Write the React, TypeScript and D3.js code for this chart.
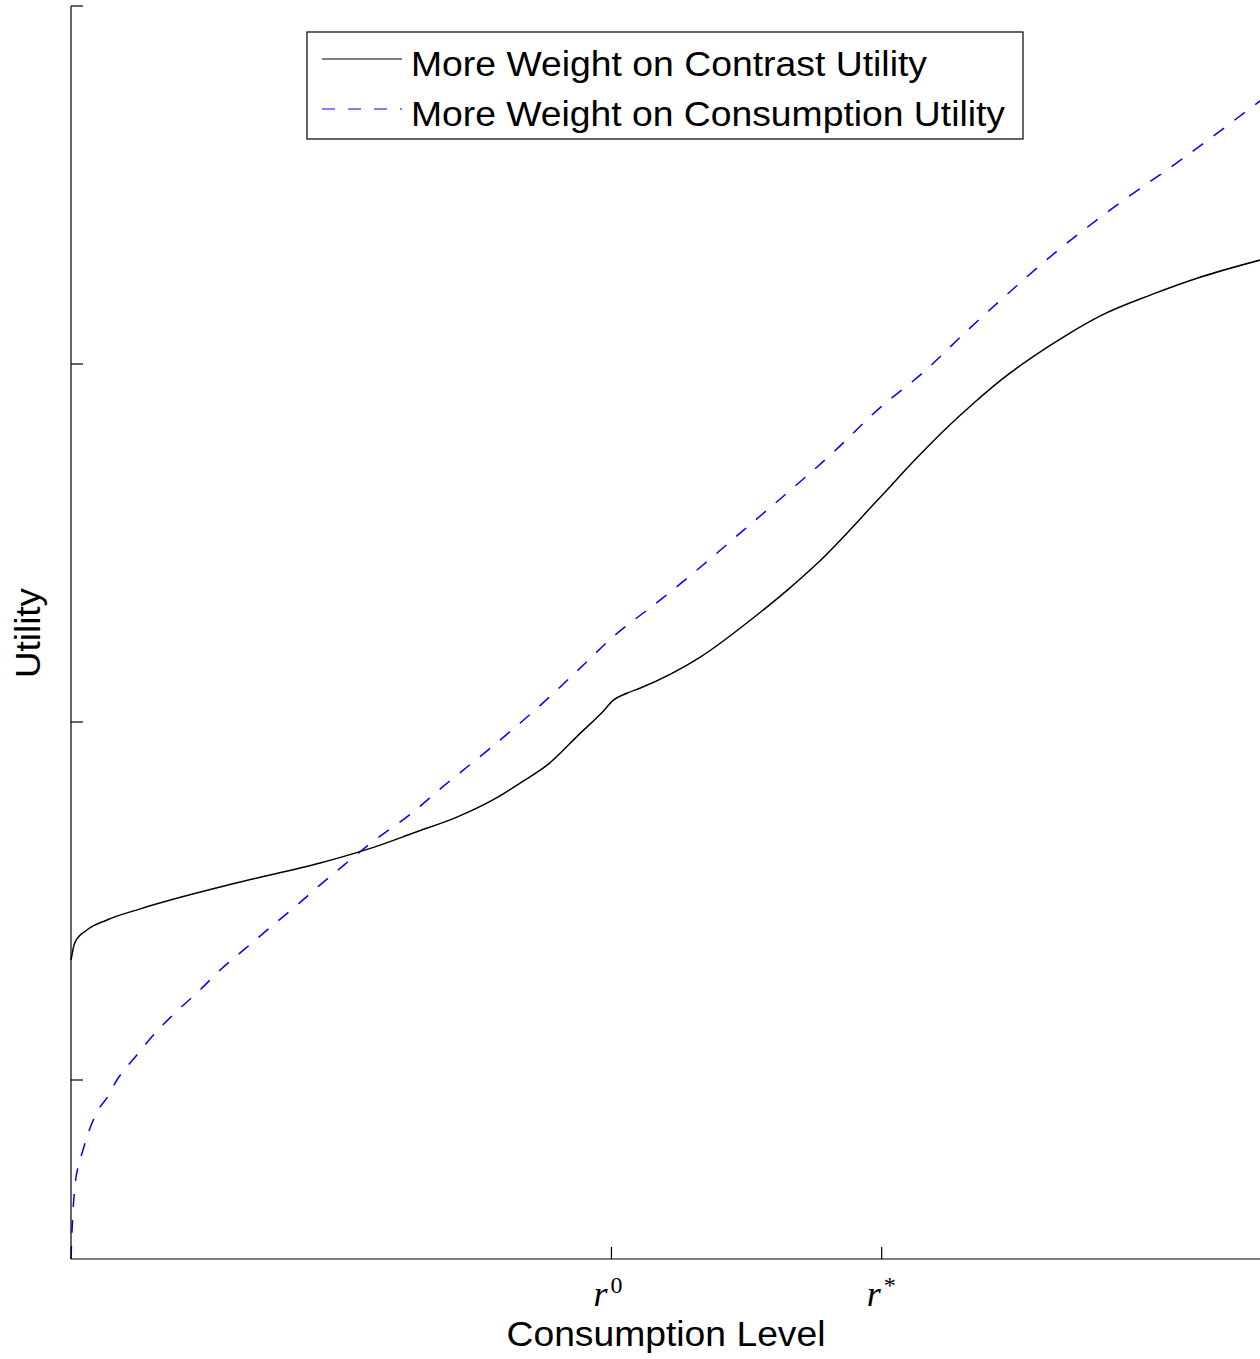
import React, { useEffect, useRef } from "react";
import * as d3 from "d3";

// consumption level (r0 = 2, r* = 3)
const contrastX = [0, 0.015, 0.059, 0.133, 0.256, 0.626, 0.922, 1.144, 1.267, 1.430, 1.581, 1.663, 1.763, 1.885, 1.967, 2.007, 2.059, 2.107, 2.330, 2.515, 2.652, 2.763, 2.985, 3.133, 3.244, 3.341, 3.441, 3.563, 3.689, 3.811, 3.996, 4.181, 4.404];
const contrastY = [0.835, 0.885, 0.919, 0.947, 0.978, 1.053, 1.106, 1.156, 1.190, 1.235, 1.291, 1.330, 1.380, 1.469, 1.528, 1.561, 1.581, 1.595, 1.682, 1.785, 1.869, 1.944, 2.120, 2.240, 2.324, 2.391, 2.455, 2.522, 2.583, 2.635, 2.693, 2.743, 2.791];

const consumptionX = [0, 0.004, 0.007, 0.015, 0.026, 0.041, 0.059, 0.100, 0.133, 0.170, 0.244, 0.315, 0.393, 0.474, 0.556, 0.626, 0.748, 0.837, 0.922, 1.011, 1.100, 1.267, 1.374, 1.552, 1.730, 1.896, 2.000, 2.181, 2.330, 2.489, 2.663, 2.822, 2.985, 3.156, 3.319, 3.441, 3.663, 3.856, 4.107, 4.404];
const consumptionY = [0, 0.081, 0.128, 0.207, 0.257, 0.296, 0.341, 0.416, 0.450, 0.500, 0.570, 0.634, 0.693, 0.749, 0.810, 0.855, 0.933, 0.989, 1.045, 1.101, 1.156, 1.249, 1.318, 1.427, 1.542, 1.659, 1.734, 1.841, 1.933, 2.036, 2.148, 2.254, 2.372, 2.478, 2.595, 2.679, 2.824, 2.936, 3.070, 3.237];

const yTicks = [0.5, 1.5, 2.5, 3.5];
const xTicks = [2, 3];
const xTickNames = ["0", "*"];
const legendNames = ["More Weight on Contrast Utility", "More Weight on Consumption Utility"];
const legendWidths = [516, 594];

const W = 1260, H = 1359;
const sans = "'Liberation Sans', Arial, Helvetica, sans-serif";

function App() {
  const ref = useRef<SVGSVGElement>(null);

  useEffect(() => {
    const svg = d3.select(ref.current);
    svg.selectAll("*").remove();

    const x = d3.scaleLinear().domain([0, 4.4]).range([71, 1260]);
    const y = d3.scaleLinear().domain([0, 3.5]).range([1259, 6]);

    const line = d3.line<[number, number]>()
      .x(d => x(d[0]))
      .y(d => y(d[1]))
      .curve(d3.curveMonotoneX);

    const black = contrastX.map((v, i) => [v, contrastY[i]] as [number, number]);
    const blue = consumptionX.map((v, i) => [v, consumptionY[i]] as [number, number]);

    svg.append("path").attr("d", line(blue)).attr("fill", "none")
      .attr("stroke", "#0000ff").attr("stroke-width", 1.5).attr("stroke-dasharray", "13,13");
    svg.append("path").attr("d", line(black)).attr("fill", "none")
      .attr("stroke", "#000").attr("stroke-width", 1.5);

    // axes
    const g = svg.append("g").attr("stroke", "#000").attr("stroke-width", 1.2);
    g.append("line").attr("x1", x(0)).attr("x2", x(0)).attr("y1", y(3.5)).attr("y2", y(0));
    g.append("line").attr("x1", x(0)).attr("x2", x(4.4)).attr("y1", y(0)).attr("y2", y(0));
    yTicks.forEach(t => {
      g.append("line").attr("x1", x(0)).attr("x2", x(0) + 12).attr("y1", y(t)).attr("y2", y(t));
    });
    xTicks.forEach((t, i) => {
      g.append("line").attr("x1", x(t)).attr("x2", x(t)).attr("y1", y(0)).attr("y2", y(0) - 12);
      const tx = svg.append("text").attr("x", x(t) - (i === 0 ? 18 : 15)).attr("y", 1306)
        .style("font-family", "'Liberation Serif', 'Times New Roman', serif")
        .style("font-size", "36px");
      tx.append("tspan").style("font-style", "italic").text("r");
      tx.append("tspan").attr("dx", 3).attr("dy", -13).style("font-size", "24px").text(xTickNames[i]);
    });

    svg.append("text").attr("x", 666).attr("y", 1346).attr("text-anchor", "middle")
      .attr("textLength", 319).attr("lengthAdjust", "spacingAndGlyphs")
      .style("font-family", sans).style("font-size", "35px").text("Consumption Level");
    svg.append("text").attr("transform", "translate(40,633) rotate(-90)").attr("text-anchor", "middle")
      .attr("textLength", 90).attr("lengthAdjust", "spacingAndGlyphs")
      .style("font-family", sans).style("font-size", "35px").text("Utility");

    // legend
    const lg = svg.append("g");
    lg.append("rect").attr("x", 307).attr("y", 32).attr("width", 716).attr("height", 107)
      .attr("fill", "#fff").attr("stroke", "#000").attr("stroke-width", 1.2);
    legendNames.forEach((name, i) => {
      const ly = 59 + i * 50;
      lg.append("line").attr("x1", 322).attr("x2", 402).attr("y1", ly).attr("y2", ly)
        .attr("stroke", i === 0 ? "#000" : "#0000ff").attr("stroke-width", 1.2)
        .attr("stroke-dasharray", i === 0 ? null : "13,13");
      lg.append("text").attr("x", 411).attr("y", ly + 17)
        .attr("textLength", legendWidths[i]).attr("lengthAdjust", "spacingAndGlyphs")
        .style("font-family", sans).style("font-size", "35px").text(name);
    });
  }, []);

  return <svg ref={ref} width={W} height={H} style={{ display: "block", position: "absolute", left: 0, top: 0, background: "#fff" }} />;
}

export default App;
